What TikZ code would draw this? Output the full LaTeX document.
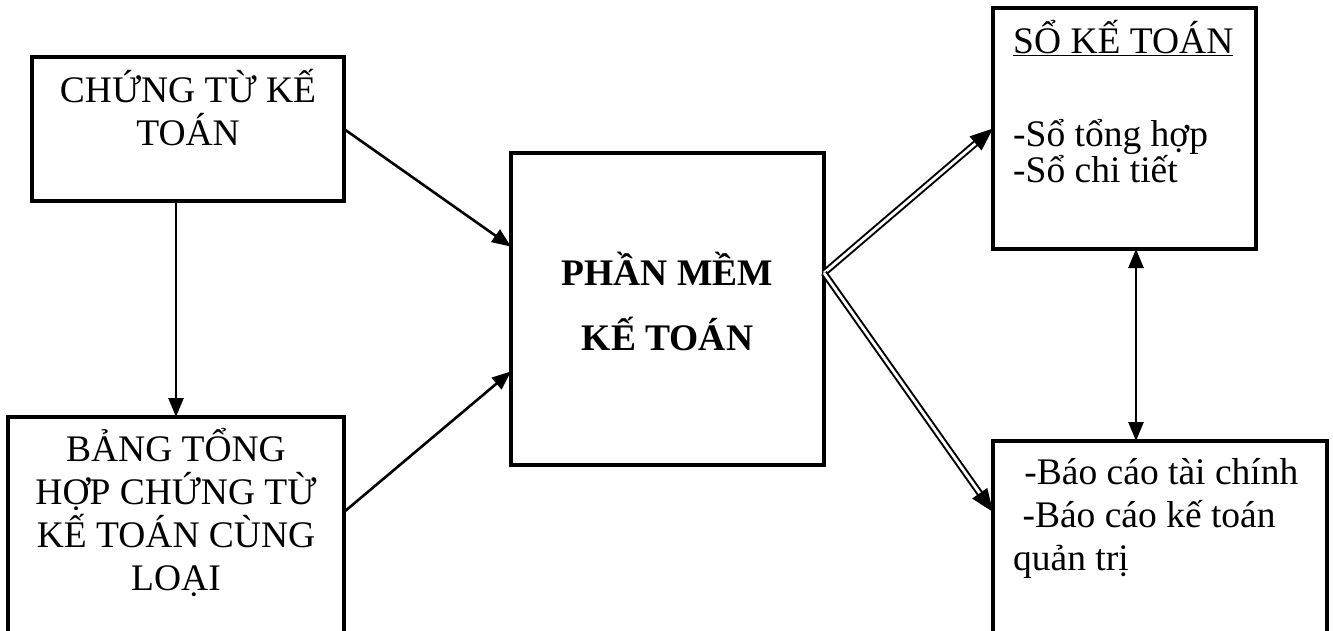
\documentclass[tikz,border=0pt]{standalone}
\usepackage{fontspec}
\setmainfont{Liberation Serif}
\usetikzlibrary{arrows.meta,calc}

\begin{document}
\begin{tikzpicture}[x=1pt,y=-1pt,
    box/.style={draw,line width=3.4pt,inner sep=0pt,outer sep=0pt},
    txt/.style={inner sep=0pt,font={\fontsize{37.5}{43}\selectfont\lineskiplimit=-100pt}},
    link/.style={line width=2.6pt,-{Triangle[length=19pt,width=15pt]}},
    twolink/.style={line width=2.6pt,{Triangle[length=19pt,width=15pt]}-{Triangle[length=19pt,width=15pt]}},
    dlink/.style={line width=2pt,double=white,double distance=2.8pt,-{Triangle[length=23pt,width=18pt]}}]
  \useasboundingbox (0,0) rectangle (1333,631);
  \clip (0,0) rectangle (1333,631);
  % boxes (bth and bc run past the lower edge)
  \node[box,minimum width=312pt,minimum height=144pt] (ctu) at (188,129) {};
  \node[box,minimum width=336pt,minimum height=248pt] (bth) at (176,541) {};
  \node[box,minimum width=313pt,minimum height=312pt] (pm)  at (667.5,309) {};
  \node[box,minimum width=263pt,minimum height=241pt] (so)  at (1124.5,128.5) {};
  \node[box,minimum width=334pt,minimum height=224pt] (bc)  at (1160,553) {};
  % texts, placed on the baseline of their last line
  \node[txt,align=center,anchor=base] (ctu-t) at (188,146) {CHỨNG TỪ KẾ\\TOÁN};
  \node[txt,align=center,anchor=base] (bth-t) at (176,590)
    {BẢNG TỔNG\\HỢP CHỨNG TỪ\\KẾ TOÁN CÙNG\\LOẠI};
  \node[txt,align=center,anchor=base,font={\fontsize{37.5}{43}\selectfont\bfseries}] (pm-t)
    at (667.5,350) {PHẦN MỀM\\[22pt]KẾ TOÁN};
  \node[txt,align=left,anchor=base west] (so-t) at (1013,183)
    {\underline{SỔ KẾ TOÁN}\\[51pt]-Sổ tổng hợp\\[-7pt]-Sổ chi tiết};
  \node[txt,align=left,anchor=base west] (bc-t) at (1013,570)
    {\hspace*{0.3em}-Báo cáo tài chính\\\hspace*{0.25em}-Báo cáo kế toán\\quản trị};
  % connectors
  \draw[link] (ctu.south -| bth.north) -- (bth.north);
  \draw[link] (ctu.east) -- ($(pm.north west)!0.3!(pm.south west)$);
  \draw[link] ([yshift=-95pt]bth.north east) -- ($(pm.north west)!0.7!(pm.south west)$);
  \coordinate (fork) at ([yshift=36pt]pm.east);
  \draw[dlink] (fork) -- (so.west);
  \draw[dlink] (fork) -- ([yshift=-71pt]bc.north west);
  \coordinate (mid) at (1136,0);
  \draw[twolink] (so.south -| mid) -- (bc.north -| mid);
\end{tikzpicture}
\end{document}
